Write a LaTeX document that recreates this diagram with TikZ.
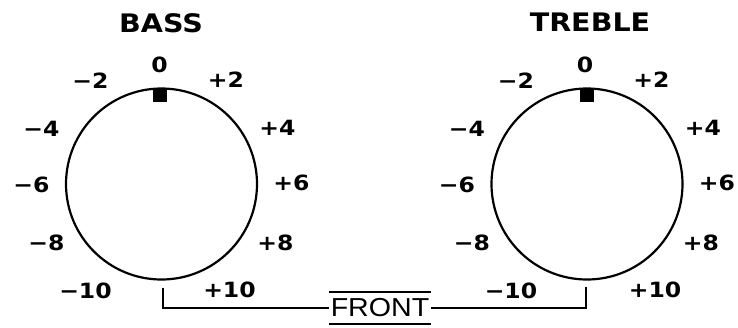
\documentclass[tikz,border=0pt]{standalone}
\usepackage{fontspec}
\setmainfont{Liberation Sans}
\newfontfamily\dialfont[FakeStretch=1.12]{DejaVu Sans}
\newfontfamily\frontfont[FakeStretch=1.1]{Liberation Sans}
\begin{document}
\begin{tikzpicture}[x=1pt,y=-1pt,
  lbl/.style={font=\dialfont\fontsize{21}{21}\selectfont\bfseries, inner sep=0pt},
  ttl/.style={font=\dialfont\fontsize{25.5}{25.5}\selectfont\bfseries, inner sep=0pt},
  knob/.style={draw, line width=2.2pt, circle, minimum size=191pt, inner sep=0pt},
  marker/.style={fill, minimum width=14pt, minimum height=14pt, inner sep=0pt, anchor=north},
  wire/.style={line width=2pt},
  frontlbl/.style={font=\frontfont\fontsize{26}{26}\selectfont, inner xsep=2pt, inner ysep=0pt, minimum height=32pt}]
\useasboundingbox (0,0) rectangle (738,327);
\node[knob] (bass) at (161.5,184) {};
\node[knob] (treble) at (587,184) {};
\node[marker] (bassmark) at ([shift={(-2,0)}]bass.north) {};
\node[marker] (treblemark) at ([shift={(0,0)}]treble.north) {};
\node[ttl] (basstitle) at (161,23) {BASS};
\node[ttl] (trebletitle) at (590,22) {TREBLE};
\foreach \k in {bass,treble}{
  \foreach \dx/\dy/\t/\n in {-2/-119.5/0/z, -71/-103/−2/m2, 64.5/-104/+2/p2,
     -120/-55/−4/m4, 116/-56.5/+4/p4, -130/1/−6/m6, 130/-1/+6/p6,
     -115/59/−8/m8, 114/58.5/+8/p8, -76/107/−10/m10, 68/106/+10/p10}{
    \node[lbl] (\k-\n) at ([shift={(\dx,\dy)}]\k.center) {\t};
  }
}
\node[frontlbl] (front) at (380,308) {FRONT};
\draw[wire] (front.north west) -- (front.north east);
\draw[wire] (front.south west) -- (front.south east);
\coordinate (bassend) at ([shift={(1.5,7)}]bass.south);
\coordinate (trebleend) at ([shift={(-1,6)}]treble.south);
\draw[wire] (bassend) |- (front.west);
\draw[wire] (front.east) -| (trebleend);
\end{tikzpicture}
\end{document}
